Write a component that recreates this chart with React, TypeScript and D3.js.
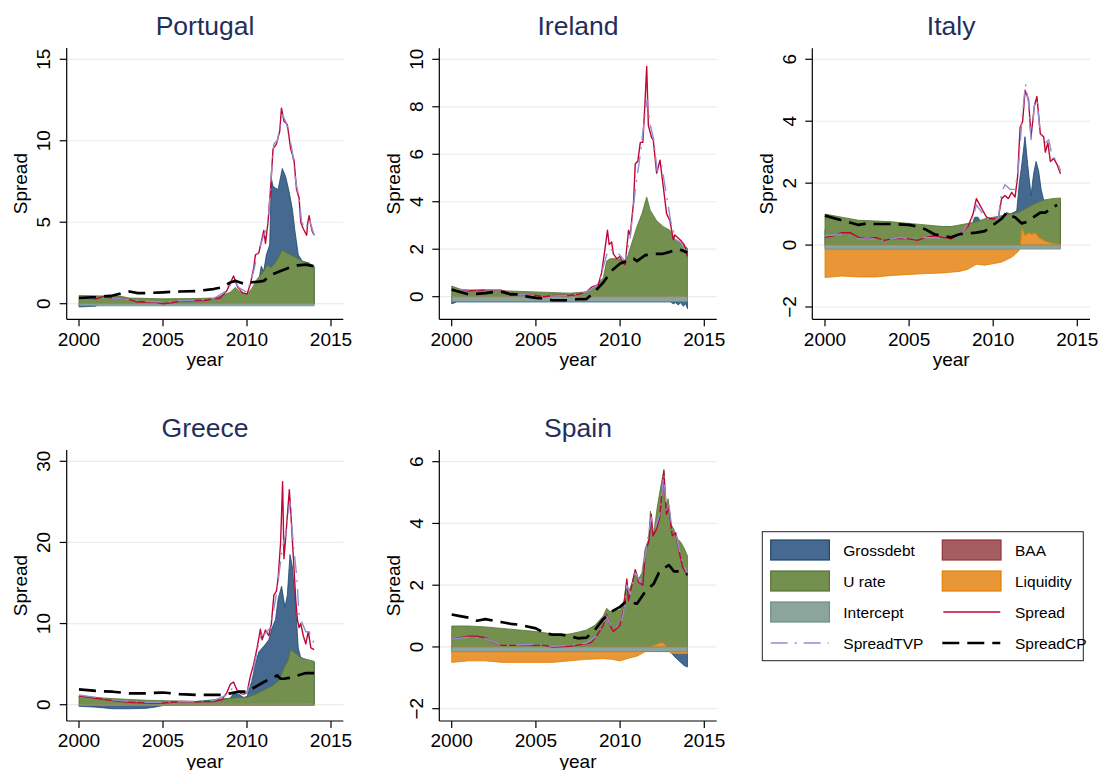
import React from 'react';
import * as d3 from 'd3';

type Pt = [number, number];

// ---------- axis ticks ----------
const xTickYears = [2000, 2005, 2010, 2015];

// ---------- Portugal ----------
const ptGrossdebt: Pt[] = [[2000,-0.2],[2001,-0.15],[2001.2,0],[2010.3,0.2],[2010.6,0.8],[2010.85,2.3],[2011.0,2.0],[2011.15,3.0],[2011.35,3.6],[2011.45,7.7],[2011.55,7.2],[2011.85,7.0],[2012.1,8.3],[2012.3,7.8],[2012.5,6.9],[2012.7,5.8],[2012.85,4.5],[2013.05,3.0],[2013.3,2.6],[2013.7,2.5],[2014,2.2]];
const ptBaa: Pt[] = [[2000,0],[2014,0]];
const ptUrate: Pt[] = [[2000,0.5],[2002.5,0.45],[2003,0.35],[2005,0.3],[2007,0.32],[2008,0.35],[2008.5,0.5],[2009,0.7],[2009.3,1.0],[2009.55,0.75],[2010,0.6],[2010.3,0.95],[2010.6,1.5],[2011,2.0],[2011.2,2.4],[2011.4,2.2],[2011.6,2.4],[2011.8,2.7],[2012.1,3.3],[2012.4,3.1],[2012.8,2.9],[2013.3,2.6],[2013.6,2.5],[2014,2.3]];
const ptLiquidity: Pt[] = [[2000,0],[2014,0]];
const ptIntercept: Pt[] = [[2000,-0.13],[2014,-0.13]];
const ptSpread: Pt[] = [[2000,0.3],[2000.5,0.35],[2001,0.3],[2001.5,0.45],[2002,0.35],[2002.5,0.3],[2003,0.25],[2003.5,0.1],[2004,0.12],[2004.5,0.1],[2005,0.0],[2005.5,0.05],[2006,0.15],[2006.5,0.15],[2007,0.2],[2007.5,0.2],[2008,0.3],[2008.4,0.35],[2008.8,0.8],[2009.2,1.7],[2009.45,1.0],[2009.75,0.65],[2010,0.6],[2010.2,1.2],[2010.4,2.2],[2010.5,3.0],[2010.7,3.1],[2010.85,3.8],[2011,4.5],[2011.1,3.7],[2011.25,5.0],[2011.4,7.0],[2011.55,9.5],[2011.75,9.8],[2011.95,10.6],[2012.05,12.0],[2012.2,11.2],[2012.4,11.0],[2012.6,9.5],[2012.8,8.8],[2012.95,7.0],[2013.1,6.5],[2013.2,5.0],[2013.35,4.6],[2013.45,4.4],[2013.55,4.2],[2013.62,5.0],[2013.7,5.4],[2013.8,4.8],[2013.9,4.4],[2014,4.2]];
const ptSpreadTVP: Pt[] = [[2000,0.3],[2001,0.35],[2002,0.35],[2003,0.25],[2004,0.15],[2005,0.1],[2006,0.18],[2007,0.2],[2008,0.3],[2008.8,0.8],[2009.2,1.5],[2009.5,1.0],[2010,0.7],[2010.4,2.0],[2010.6,3.0],[2011,4.2],[2011.25,4.8],[2011.45,8.0],[2011.6,9.8],[2011.8,10.0],[2012.0,11.0],[2012.1,11.6],[2012.3,11.2],[2012.5,10.5],[2012.7,9.3],[2012.9,7.5],[2013.1,6.5],[2013.25,5.0],[2013.5,4.6],[2013.7,5.2],[2013.85,4.7],[2014,4.2]];
const ptSpreadCP: Pt[] = [[2000,0.35],[2001,0.4],[2002,0.5],[2003,0.75],[2003.5,0.65],[2004,0.65],[2005,0.7],[2006,0.75],[2007,0.78],[2008,0.9],[2008.5,1.0],[2009,1.3],[2009.3,1.4],[2009.6,1.3],[2009.9,1.2],[2010.2,1.3],[2010.7,1.35],[2011,1.4],[2011.5,1.8],[2012,2.0],[2012.5,2.2],[2013,2.35],[2013.5,2.4],[2014,2.3]];

// ---------- Ireland ----------
const ieGrossdebt: Pt[] = [[2000,-0.3],[2000.3,-0.22],[2013,-0.22],[2013.15,-0.3],[2013.3,-0.25],[2013.45,-0.35],[2013.6,-0.25],[2013.75,-0.4],[2013.9,-0.3],[2014,-0.5]];
const ieBaa: Pt[] = [[2000,0],[2014,0]];
const ieUrate: Pt[] = [[2000,0.45],[2000.5,0.32],[2001,0.28],[2003,0.25],[2005,0.2],[2007,0.15],[2008,0.2],[2008.5,0.4],[2009,0.8],[2009.2,1.5],[2009.4,1.6],[2009.9,1.6],[2010.3,1.5],[2010.45,1.7],[2010.8,2.5],[2011,2.95],[2011.3,3.5],[2011.58,4.2],[2011.78,3.65],[2012.17,3.2],[2012.57,2.95],[2012.96,2.8],[2013.26,2.4],[2013.7,2.2],[2014,2.05]];
const ieLiquidity: Pt[] = [[2000,0],[2014,0]];
const ieIntercept: Pt[] = [[2000,-0.2],[2014,-0.2]];
const ieSpread: Pt[] = [[2000,0.3],[2000.5,0.28],[2001,0.25],[2002,0.28],[2002.8,0.3],[2003.5,0.15],[2004,0.1],[2005,0.05],[2005.5,0.0],[2006,0.05],[2007,0.05],[2007.5,0.1],[2008,0.2],[2008.3,0.4],[2008.7,0.5],[2008.9,1.0],[2009.1,2.0],[2009.25,2.8],[2009.35,2.2],[2009.5,2.3],[2009.6,1.8],[2009.8,1.6],[2010,1.7],[2010.1,1.5],[2010.3,1.35],[2010.5,2.8],[2010.6,2.6],[2010.8,4.0],[2010.9,5.6],[2011.05,5.7],[2011.2,6.5],[2011.35,6.5],[2011.48,8.2],[2011.58,9.7],[2011.68,7.2],[2011.87,6.7],[2011.97,6.6],[2012.17,5.2],[2012.37,5.75],[2012.57,4.6],[2012.76,3.5],[2012.96,3.2],[2013.16,2.4],[2013.25,2.6],[2013.56,2.4],[2013.8,2.2],[2014,1.7]];
const ieSpreadTVP: Pt[] = [[2000,0.3],[2001,0.28],[2002.8,0.3],[2004,0.1],[2005.5,0.02],[2007,0.05],[2008,0.2],[2008.7,0.5],[2009.1,1.5],[2009.3,2.0],[2009.8,1.9],[2010.3,1.5],[2010.6,2.5],[2010.9,4.5],[2011.2,6.0],[2011.45,7.5],[2011.6,8.3],[2011.8,7.2],[2012,6.6],[2012.2,5.3],[2012.45,5.6],[2012.7,4.5],[2013,3.2],[2013.3,2.4],[2013.6,2.3],[2014,1.75]];
const ieSpreadCP: Pt[] = [[2000,0.3],[2000.5,0.2],[2001,0.1],[2002,0.15],[2002.5,0.2],[2003,0.2],[2003.5,0.1],[2004,0.1],[2004.5,0.0],[2005,-0.05],[2005.5,-0.08],[2006,-0.15],[2007,-0.15],[2007.5,-0.1],[2008,-0.1],[2008.4,0.15],[2009,0.6],[2009.5,1.1],[2010,1.4],[2010.4,1.5],[2010.8,1.6],[2011,1.5],[2011.5,1.75],[2012,1.8],[2012.5,1.8],[2013,1.9],[2013.4,2.0],[2013.7,1.95],[2014,1.85]];

// ---------- Italy ----------
const itGrossdebt: Pt[] = [[2000,0.5],[2008.7,0.6],[2008.9,0.9],[2009.1,0.9],[2009.3,0.7],[2010.5,0.9],[2010.8,1.05],[2011.0,1.0],[2011.4,1.1],[2011.55,2.0],[2011.7,2.6],[2011.89,3.5],[2012.05,2.6],[2012.25,1.6],[2012.4,2.3],[2012.55,2.7],[2012.7,2.4],[2012.85,1.8],[2013,1.45],[2014,1.4]];
const itBaa: Pt[] = [[2000,0],[2014,0]];
const itUrate: Pt[] = [[2000,1.0],[2001,0.9],[2002,0.8],[2003,0.78],[2004,0.75],[2005,0.7],[2006,0.65],[2007,0.6],[2007.5,0.6],[2008,0.65],[2008.5,0.7],[2009,0.75],[2009.5,0.85],[2010,0.9],[2010.5,0.95],[2011,1.0],[2011.5,1.05],[2012,1.2],[2012.5,1.35],[2013,1.45],[2013.5,1.5],[2014,1.52]];
const itLiquidity: Pt[] = [[2000,-1.05],[2001,-1.0],[2002,-1.03],[2003,-1.03],[2004,-0.98],[2005,-0.95],[2006,-0.92],[2007,-0.9],[2008,-0.85],[2008.5,-0.78],[2009,-0.62],[2009.5,-0.65],[2010,-0.6],[2010.5,-0.55],[2011,-0.42],[2011.2,-0.35],[2011.5,-0.2],[2011.6,-0.1],[2011.7,0.55],[2011.9,0.3],[2012.1,0.4],[2012.3,0.35],[2012.5,0.4],[2012.7,0.25],[2013,0.15],[2013.5,0.05],[2014,0.02]];
const itIntercept: Pt[] = [[2000,-0.13],[2014,-0.13]];
const itSpread: Pt[] = [[2000,0.25],[2000.5,0.3],[2001,0.4],[2001.5,0.4],[2002,0.25],[2002.5,0.2],[2003,0.25],[2003.5,0.15],[2004,0.2],[2004.5,0.22],[2005,0.2],[2005.5,0.15],[2006,0.25],[2006.5,0.3],[2007,0.25],[2007.5,0.2],[2008,0.35],[2008.5,0.6],[2008.8,1.0],[2009,1.5],[2009.2,1.3],[2009.4,1.1],[2009.6,0.9],[2009.8,0.85],[2010,0.85],[2010.3,0.85],[2010.5,1.5],[2010.7,1.6],[2010.9,1.5],[2011.1,1.7],[2011.3,1.55],[2011.45,2.2],[2011.6,3.8],[2011.75,4.0],[2011.9,5.0],[2012,4.85],[2012.1,4.7],[2012.25,3.5],[2012.45,4.5],[2012.6,4.8],[2012.8,3.6],[2013,3.5],[2013.1,3.0],[2013.25,3.3],[2013.4,2.7],[2013.6,2.8],[2013.8,2.6],[2014,2.3]];
const itSpreadTVP: Pt[] = [[2000,0.3],[2001,0.35],[2002,0.2],[2003,0.2],[2003.5,0.15],[2004.5,0.25],[2005,0.2],[2006,0.25],[2007,0.22],[2008,0.3],[2008.8,0.9],[2009,1.3],[2009.4,1.0],[2009.8,0.8],[2010.3,0.85],[2010.5,1.7],[2010.7,1.95],[2011.0,1.8],[2011.3,1.8],[2011.5,2.5],[2011.7,4.0],[2011.92,5.2],[2012.1,4.6],[2012.25,3.4],[2012.45,4.5],[2012.6,4.7],[2012.8,3.6],[2013.1,3.3],[2013.3,3.4],[2013.5,2.9],[2013.8,2.7],[2014,2.4]];
const itSpreadCP: Pt[] = [[2000,0.95],[2001,0.8],[2002,0.65],[2002.5,0.7],[2003,0.68],[2004,0.68],[2005,0.65],[2005.5,0.6],[2006,0.5],[2006.5,0.35],[2007,0.3],[2007.5,0.25],[2008,0.35],[2009,0.4],[2009.5,0.45],[2010,0.65],[2010.5,0.85],[2010.8,1.05],[2011,0.95],[2011.3,0.9],[2011.7,0.7],[2012,0.75],[2012.4,0.9],[2012.8,1.05],[2013.1,1.05],[2013.5,1.2],[2013.8,1.3]];

// ---------- Greece ----------
const grGrossdebt: Pt[] = [[2000,-0.2],[2001,-0.3],[2002,-0.5],[2003,-0.5],[2004,-0.45],[2004.5,-0.3],[2005,-0.1],[2006,0.2],[2009,0.8],[2009.2,1.4],[2009.5,1.3],[2009.8,0.9],[2010,1.0],[2010.3,3.0],[2010.5,5.0],[2010.7,6.5],[2011,7.2],[2011.3,8.0],[2011.5,9.5],[2011.7,10.5],[2011.85,13.0],[2012.06,14.6],[2012.26,12.0],[2012.4,13.5],[2012.56,18.5],[2012.7,17.0],[2012.9,12.0],[2013.05,7.0],[2013.2,5.8],[2014,5.2]];
const grBaa: Pt[] = [[2000,0],[2014,0]];
const grUrate: Pt[] = [[2000,1.1],[2001,0.9],[2002,0.75],[2003,0.65],[2004,0.55],[2005,0.5],[2006,0.45],[2007,0.4],[2008,0.5],[2008.5,0.6],[2009,0.8],[2009.5,0.9],[2010,0.9],[2010.5,1.3],[2011,1.8],[2011.5,2.3],[2011.9,3.0],[2012.2,4.5],[2012.45,5.5],[2012.6,6.8],[2012.9,6.3],[2013.2,5.8],[2013.5,5.6],[2014,5.35]];
const grLiquidity: Pt[] = [[2000,0],[2005,0],[2005.5,0.08],[2014,0.1]];
const grIntercept: Pt[] = [[2000,-0.1],[2014,-0.1]];
const grSpread: Pt[] = [[2000,1.1],[2001,0.8],[2002,0.5],[2003,0.3],[2004,0.2],[2005,0.2],[2006,0.4],[2007,0.35],[2008,0.4],[2008.5,0.6],[2008.8,1.5],[2009,2.5],[2009.2,2.8],[2009.4,1.8],[2009.6,1.4],[2009.8,1.3],[2010,1.5],[2010.2,3.5],[2010.4,5.0],[2010.6,7.0],[2010.8,9.3],[2010.9,8.0],[2011.1,9.2],[2011.3,8.5],[2011.45,10.0],[2011.6,13.5],[2011.75,14.0],[2011.85,15.5],[2012,20.0],[2012.12,27.5],[2012.2,18.0],[2012.3,20.5],[2012.52,26.5],[2012.6,24.0],[2012.75,18.5],[2012.9,13.0],[2013,10.5],[2013.1,9.5],[2013.2,10.0],[2013.35,8.5],[2013.5,7.5],[2013.65,9.0],[2013.8,7.0],[2014,6.8]];
const grSpreadTVP: Pt[] = [[2000,1.2],[2001,0.9],[2002,0.6],[2003,0.4],[2004,0.3],[2005,0.3],[2006,0.4],[2007,0.4],[2008,0.5],[2008.8,1.2],[2009.2,2.2],[2009.6,1.5],[2010,1.5],[2010.4,4.5],[2010.8,8.5],[2011.1,8.8],[2011.4,9.5],[2011.7,13.0],[2011.9,16.0],[2012.12,19.5],[2012.3,21.0],[2012.55,25.0],[2012.75,20.0],[2012.96,15.8],[2013.1,11.0],[2013.3,10.0],[2013.5,9.0],[2013.7,9.0],[2014,7.5]];
const grSpreadCP: Pt[] = [[2000,1.9],[2001,1.7],[2002,1.6],[2003,1.4],[2004,1.4],[2005,1.5],[2006,1.3],[2007,1.2],[2008,1.2],[2008.5,1.2],[2009,1.4],[2009.5,1.6],[2010,1.6],[2010.5,2.2],[2011,2.8],[2011.5,3.3],[2011.8,3.6],[2012,3.2],[2012.2,3.2],[2012.5,3.3],[2013,3.6],[2013.5,3.9],[2014,3.9]];

// ---------- Spain ----------
const esGrossdebt: Pt[] = [[2000,-0.1],[2013,-0.15],[2013.2,-0.3],[2013.4,-0.4],[2013.6,-0.5],[2013.8,-0.6],[2014,-0.65]];
const esBaa: Pt[] = [[2000,0],[2014,0]];
const esUrate: Pt[] = [[2000,0.68],[2001,0.68],[2002,0.65],[2003,0.6],[2004,0.55],[2005,0.5],[2006,0.42],[2006.5,0.4],[2007,0.42],[2007.5,0.48],[2008,0.55],[2008.5,0.7],[2009,1.0],[2009.2,1.25],[2009.4,1.15],[2009.6,1.15],[2010,1.2],[2010.2,1.4],[2010.4,2.1],[2010.5,1.8],[2010.7,2.05],[2010.9,2.5],[2011.1,2.2],[2011.3,2.4],[2011.5,3.2],[2011.7,3.5],[2011.8,4.4],[2011.9,3.8],[2012,3.7],[2012.2,4.5],[2012.35,5.0],[2012.6,5.75],[2012.7,4.5],[2012.85,4.8],[2013,4.0],[2013.2,3.8],[2013.4,3.5],[2013.6,3.4],[2013.8,3.2],[2014,2.95]];
const esLiquidity: Pt[] = [[2000,-0.5],[2001,-0.45],[2002,-0.45],[2003,-0.5],[2004,-0.5],[2005,-0.5],[2006,-0.5],[2007,-0.45],[2008,-0.4],[2009,-0.38],[2009.5,-0.4],[2010,-0.45],[2010.3,-0.4],[2010.6,-0.35],[2011,-0.3],[2011.5,-0.15],[2011.7,0.0],[2012,0.05],[2012.5,0.15],[2012.7,0.05],[2013,-0.2],[2013.5,-0.22],[2014,-0.22]];
const esIntercept: Pt[] = [[2000,-0.15],[2014,-0.15]];
const esSpread: Pt[] = [[2000,0.25],[2001,0.35],[2001.5,0.35],[2002,0.3],[2002.5,0.15],[2003,0.05],[2004,0.05],[2005,0.05],[2005.5,0.05],[2006,0.0],[2007,0.02],[2008,0.1],[2008.3,0.15],[2008.6,0.35],[2009,0.7],[2009.2,1.05],[2009.4,0.7],[2009.6,0.5],[2009.8,0.6],[2010,0.7],[2010.2,1.2],[2010.4,2.2],[2010.5,1.5],[2010.7,2.0],[2010.9,2.5],[2011.1,2.1],[2011.35,2.0],[2011.5,3.1],[2011.7,3.4],[2011.85,4.3],[2011.95,3.6],[2012.15,3.8],[2012.35,4.2],[2012.6,5.7],[2012.75,4.3],[2012.9,4.5],[2013.1,3.6],[2013.3,3.7],[2013.5,3.1],[2013.7,2.6],[2014,2.3]];
const esSpreadTVP: Pt[] = [[2000,0.25],[2001,0.32],[2002,0.28],[2003,0.05],[2005,0.08],[2006,0.02],[2007,0.05],[2008,0.12],[2008.6,0.35],[2009,0.75],[2009.2,1.0],[2009.5,0.6],[2010,0.7],[2010.2,1.1],[2010.4,2.0],[2010.6,1.7],[2010.9,2.4],[2011.2,2.1],[2011.5,3.0],[2011.85,4.2],[2012,3.7],[2012.35,4.3],[2012.6,5.6],[2012.75,4.4],[2012.9,4.6],[2013.1,3.7],[2013.35,3.6],[2013.6,2.9],[2014,2.35]];
const esSpreadCP: Pt[] = [[2000,1.05],[2000.5,1.0],[2001,0.95],[2001.5,0.85],[2002,0.9],[2003,0.8],[2003.5,0.75],[2004,0.72],[2005,0.6],[2005.5,0.45],[2006,0.4],[2006.5,0.4],[2007,0.35],[2007.5,0.28],[2008,0.3],[2008.5,0.55],[2009,0.9],[2009.5,1.15],[2010,1.3],[2010.3,1.45],[2010.6,1.45],[2011,1.4],[2011.5,1.8],[2012,2.05],[2012.3,2.4],[2012.6,2.55],[2012.9,2.65],[2013.2,2.45],[2013.6,2.45],[2014,2.35]];

// ---------- panels ----------
interface Country {
  name: string;
  yTicks: number[];
  areas: { key: string; data: Pt[] }[];
  spread: Pt[];
  tvp: Pt[];
  cp: Pt[];
}

const countries: Country[] = [
  { name: 'Portugal', yTicks: [0, 5, 10, 15],
    areas: [{ key: 'Grossdebt', data: ptGrossdebt }, { key: 'BAA', data: ptBaa }, { key: 'U rate', data: ptUrate }, { key: 'Liquidity', data: ptLiquidity }, { key: 'Intercept', data: ptIntercept }],
    spread: ptSpread, tvp: ptSpreadTVP, cp: ptSpreadCP },
  { name: 'Ireland', yTicks: [0, 2, 4, 6, 8, 10],
    areas: [{ key: 'Grossdebt', data: ieGrossdebt }, { key: 'BAA', data: ieBaa }, { key: 'U rate', data: ieUrate }, { key: 'Liquidity', data: ieLiquidity }, { key: 'Intercept', data: ieIntercept }],
    spread: ieSpread, tvp: ieSpreadTVP, cp: ieSpreadCP },
  { name: 'Italy', yTicks: [-2, 0, 2, 4, 6],
    areas: [{ key: 'Grossdebt', data: itGrossdebt }, { key: 'BAA', data: itBaa }, { key: 'U rate', data: itUrate }, { key: 'Liquidity', data: itLiquidity }, { key: 'Intercept', data: itIntercept }],
    spread: itSpread, tvp: itSpreadTVP, cp: itSpreadCP },
  { name: 'Greece', yTicks: [0, 10, 20, 30],
    areas: [{ key: 'Grossdebt', data: grGrossdebt }, { key: 'BAA', data: grBaa }, { key: 'U rate', data: grUrate }, { key: 'Liquidity', data: grLiquidity }, { key: 'Intercept', data: grIntercept }],
    spread: grSpread, tvp: grSpreadTVP, cp: grSpreadCP },
  { name: 'Spain', yTicks: [-2, 0, 2, 4, 6],
    areas: [{ key: 'Grossdebt', data: esGrossdebt }, { key: 'BAA', data: esBaa }, { key: 'U rate', data: esUrate }, { key: 'Liquidity', data: esLiquidity }, { key: 'Intercept', data: esIntercept }],
    spread: esSpread, tvp: esSpreadTVP, cp: esSpreadCP },
];

// plot regions (pixels): left/right/top/bottom of the plot box, plus where
// the first and last tick of each axis sit
const frames = [
  { left: 66.7, right: 343.3, top: 48, bottom: 319.3, x2000: 79, x2015: 331, yLoPx: 303.7, yHiPx: 59.3 },
  { left: 439.3, right: 716.7, top: 48.3, bottom: 319.3, x2000: 451.7, x2015: 704.3, yLoPx: 296.7, yHiPx: 59.3 },
  { left: 812.3, right: 1090, top: 48.3, bottom: 319.3, x2000: 825, x2015: 1077.3, yLoPx: 307, yHiPx: 59.3 },
  { left: 66.7, right: 343.3, top: 450, bottom: 721, x2000: 79, x2015: 331, yLoPx: 704.7, yHiPx: 461.3 },
  { left: 439.3, right: 716.7, top: 450, bottom: 721, x2000: 451.7, x2015: 704.3, yLoPx: 708.7, yHiPx: 461.7 },
];

const areaStyle: Record<string, { fill: string; stroke: string }> = {
  Grossdebt: { fill: '#46698f', stroke: '#1a476f' },
  BAA: { fill: '#a65d62', stroke: '#90353b' },
  'U rate': { fill: '#73904f', stroke: '#55752f' },
  Liquidity: { fill: '#e99636', stroke: '#e37e00' },
  Intercept: { fill: '#8ba59c', stroke: '#6e8e84' },
};
const spreadColor = '#c10534';
const tvpColor = '#938dd2';
const cpColor = '#000000';
const tvpDash = '17,7,2,7';
const cpDash = '17,8';

const FONT = "'Liberation Sans', Arial, Helvetica, sans-serif";
const titleColor = '#1f2f5c';
const gridColor = '#e6eef0';

function Panel({ c, f, idx }: { c: Country; f: typeof frames[number]; idx: number }) {
  const x = d3.scaleLinear().domain([2000, 2015]).range([f.x2000, f.x2015]);
  const yLo = c.yTicks[0];
  const yHi = c.yTicks[c.yTicks.length - 1];
  const y = d3.scaleLinear().domain([yLo, yHi]).range([f.yLoPx, f.yHiPx]);
  const area = d3.area<Pt>().x(d => x(d[0])).y0(y(0)).y1(d => y(d[1]));
  const line = d3.line<Pt>().x(d => x(d[0])).y(d => y(d[1]));
  const clipId = `clip-${idx}`;
  const cx = (f.left + f.right) / 2;
  const cy = (f.top + f.bottom) / 2;
  return (
    <g>
      <defs>
        <clipPath id={clipId}>
          <rect x={f.left} y={f.top} width={f.right - f.left} height={f.bottom - f.top} />
        </clipPath>
      </defs>
      {/* horizontal grid */}
      {c.yTicks.map(t => (
        <line key={'g' + t} x1={f.left} x2={f.right} y1={y(t)} y2={y(t)} stroke={gridColor} strokeWidth={1.2} />
      ))}
      <g clipPath={`url(#${clipId})`}>
        {c.areas.map(a => (
          <path key={a.key} d={area(a.data) || ''} fill={areaStyle[a.key].fill} stroke={areaStyle[a.key].stroke} strokeWidth={0.8} strokeLinejoin="round" />
        ))}
        <path d={line(c.spread) || ''} fill="none" stroke={spreadColor} strokeWidth={1.4} strokeLinejoin="round" />
        <path d={line(c.tvp) || ''} fill="none" stroke={tvpColor} strokeWidth={1.4} strokeDasharray={tvpDash} strokeLinejoin="round" />
        <path d={line(c.cp) || ''} fill="none" stroke={cpColor} strokeWidth={2.7} strokeDasharray={cpDash} strokeLinejoin="round" />
      </g>
      {/* axes */}
      <line x1={f.left} x2={f.left} y1={f.top} y2={f.bottom} stroke="#000" strokeWidth={1.2} />
      <line x1={f.left} x2={f.right} y1={f.bottom} y2={f.bottom} stroke="#000" strokeWidth={1.2} />
      {c.yTicks.map(t => (
        <g key={'y' + t}>
          <line x1={f.left - 7} x2={f.left} y1={y(t)} y2={y(t)} stroke="#000" strokeWidth={1.2} />
          <text transform={`translate(${f.left - 16.7},${y(t)}) rotate(-90)`} textAnchor="middle" fontSize={19} fontFamily={FONT} fill="#000">
            {t < 0 ? '\u2212' + Math.abs(t) : String(t)}
          </text>
        </g>
      ))}
      {xTickYears.map(t => (
        <g key={'x' + t}>
          <line x1={x(t)} x2={x(t)} y1={f.bottom} y2={f.bottom + 7} stroke="#000" strokeWidth={1.2} />
          <text x={x(t)} y={f.bottom + 26.4} textAnchor="middle" fontSize={19} fontFamily={FONT} fill="#000">{t}</text>
        </g>
      ))}
      <text transform={`translate(${f.left - 39.5},${cy}) rotate(-90)`} textAnchor="middle" fontSize={19} fontFamily={FONT} fill="#000">Spread</text>
      <text x={cx} y={f.bottom + 46.5} textAnchor="middle" fontSize={19} fontFamily={FONT} fill="#000">year</text>
      <text x={cx} y={f.top - 13.5} textAnchor="middle" fontSize={26.5} fontFamily={FONT} fill={titleColor}>{c.name}</text>
    </g>
  );
}

const legendItems = ['Grossdebt', 'BAA', 'U rate', 'Liquidity', 'Intercept', 'Spread', 'SpreadTVP', 'SpreadCP'];

function Legend() {
  const box = { x: 762.3, y: 531.7, w: 321, h: 129 };
  const colSwatch = [770.7, 942.3];
  const colText = [843.3, 1015];
  const rowY = [550, 581, 612, 643];
  return (
    <g>
      <rect x={box.x} y={box.y} width={box.w} height={box.h} fill="#fff" stroke="#222" strokeWidth={1} />
      {legendItems.map((k, i) => {
        const col = i % 2;
        const row = Math.floor(i / 2);
        const sx = colSwatch[col];
        const cy = rowY[row];
        let mark: React.ReactNode;
        if (areaStyle[k]) {
          mark = <rect x={sx} y={cy - 10} width={58.7} height={20} fill={areaStyle[k].fill} stroke={areaStyle[k].stroke} strokeWidth={1.2} />;
        } else if (k === 'Spread') {
          mark = <line x1={sx + 1} x2={sx + 58} y1={cy} y2={cy} stroke={spreadColor} strokeWidth={1.4} />;
        } else if (k === 'SpreadTVP') {
          mark = <line x1={sx} x2={sx + 58} y1={cy} y2={cy} stroke={tvpColor} strokeWidth={1.4} strokeDasharray={tvpDash} />;
        } else {
          mark = <line x1={sx} x2={sx + 58} y1={cy} y2={cy} stroke={cpColor} strokeWidth={2.7} strokeDasharray={cpDash} />;
        }
        return (
          <g key={k}>
            {mark}
            <text x={colText[col]} y={cy + 5.5} fontSize={15.5} fontFamily={FONT} fill="#000">{k}</text>
          </g>
        );
      })}
    </g>
  );
}

export default function App() {
  return (
    <svg width={1101} height={770} style={{ position: 'absolute', left: 0, top: 0, background: '#fff' }}>
      <rect x={0} y={0} width={1101} height={770} fill="#fff" />
      {countries.map((c, i) => (
        <Panel key={c.name} c={c} f={frames[i]} idx={i} />
      ))}
      <Legend />
    </svg>
  );
}
